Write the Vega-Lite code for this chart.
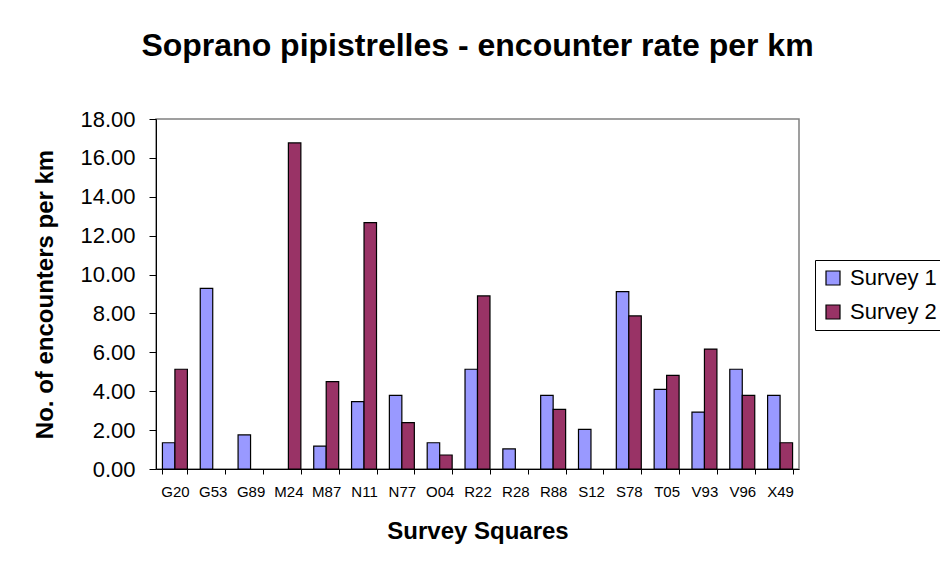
{
  "$schema": "https://vega.github.io/schema/vega-lite/v6.json",
  "width": 643,
  "height": 350,
  "autosize": {"type": "none"},
  "padding": {"left": 156, "top": 119, "right": 141, "bottom": 100},
  "background": "white",
  "title": {
    "text": "Soprano pipistrelles - encounter rate per km",
    "font": "Liberation Sans",
    "fontSize": 32,
    "fontWeight": "bold",
    "color": "black",
    "anchor": "middle",
    "offset": 45
  },
  "data": {
    "values": [
      {"square": "G20", "survey": "Survey 1", "rate": 1.35},
      {"square": "G20", "survey": "Survey 2", "rate": 5.13},
      {"square": "G53", "survey": "Survey 1", "rate": 9.29},
      {"square": "G89", "survey": "Survey 1", "rate": 1.75},
      {"square": "M24", "survey": "Survey 2", "rate": 16.77},
      {"square": "M87", "survey": "Survey 1", "rate": 1.18},
      {"square": "M87", "survey": "Survey 2", "rate": 4.49},
      {"square": "N11", "survey": "Survey 1", "rate": 3.46},
      {"square": "N11", "survey": "Survey 2", "rate": 12.67},
      {"square": "N77", "survey": "Survey 1", "rate": 3.79},
      {"square": "N77", "survey": "Survey 2", "rate": 2.38},
      {"square": "O04", "survey": "Survey 1", "rate": 1.35},
      {"square": "O04", "survey": "Survey 2", "rate": 0.72},
      {"square": "R22", "survey": "Survey 1", "rate": 5.13},
      {"square": "R22", "survey": "Survey 2", "rate": 8.9},
      {"square": "R28", "survey": "Survey 1", "rate": 1.03},
      {"square": "R88", "survey": "Survey 1", "rate": 3.79},
      {"square": "R88", "survey": "Survey 2", "rate": 3.07},
      {"square": "S12", "survey": "Survey 1", "rate": 2.04},
      {"square": "S78", "survey": "Survey 1", "rate": 9.12},
      {"square": "S78", "survey": "Survey 2", "rate": 7.87},
      {"square": "T05", "survey": "Survey 1", "rate": 4.1},
      {"square": "T05", "survey": "Survey 2", "rate": 4.82},
      {"square": "V93", "survey": "Survey 1", "rate": 2.93},
      {"square": "V93", "survey": "Survey 2", "rate": 6.17},
      {"square": "V96", "survey": "Survey 1", "rate": 5.13},
      {"square": "V96", "survey": "Survey 2", "rate": 3.79},
      {"square": "X49", "survey": "Survey 1", "rate": 3.79},
      {"square": "X49", "survey": "Survey 2", "rate": 1.35}
    ]
  },
  "mark": {"type": "bar", "stroke": "black", "strokeWidth": 1.2},
  "encoding": {
    "x": {
      "field": "square",
      "type": "nominal",
      "sort": null,
      "scale": {"paddingInner": 0.34, "paddingOuter": 0.17},
      "axis": {
        "title": "Survey Squares",
        "titleFont": "Liberation Sans",
        "titleFontSize": 24,
        "titleFontWeight": "bold",
        "titleColor": "black",
        "titlePadding": 20,
        "labelFont": "Liberation Sans",
        "labelFontSize": 15,
        "labelColor": "black",
        "labelAngle": 0,
        "labelPadding": 10,
        "tickBand": "extent",
        "tickSize": 5,
        "tickColor": "black",
        "domainColor": "black",
        "grid": false
      }
    },
    "xOffset": {"field": "survey", "type": "nominal"},
    "y": {
      "field": "rate",
      "type": "quantitative",
      "scale": {"domain": [0, 18]},
      "axis": {
        "title": "No. of encounters per km",
        "titleFont": "Liberation Sans",
        "titleFontSize": 24,
        "titleFontWeight": "bold",
        "titleColor": "black",
        "titlePadding": 22,
        "values": [0, 2, 4, 6, 8, 10, 12, 14, 16, 18],
        "format": ".2f",
        "labelFont": "Liberation Sans",
        "labelFontSize": 22,
        "labelColor": "black",
        "labelPadding": 14,
        "tickSize": 7,
        "tickColor": "black",
        "domainColor": "black",
        "grid": false
      }
    },
    "color": {
      "field": "survey",
      "type": "nominal",
      "scale": {"domain": ["Survey 1", "Survey 2"], "range": ["#9999FF", "#993366"]},
      "legend": {
        "title": null,
        "orient": "none",
        "legendX": 659,
        "legendY": 141,
        "symbolType": "square",
        "symbolSize": 196,
        "symbolStrokeColor": "black",
        "symbolStrokeWidth": 1.2,
        "labelFont": "Liberation Sans",
        "labelFontSize": 22,
        "labelColor": "black",
        "labelOffset": 6,
        "rowPadding": 12,
        "padding": 7,
        "strokeColor": "black",
        "fillColor": "white"
      }
    }
  },
  "config": {
    "view": {"stroke": "#808080", "strokeWidth": 1.5}
  }
}
